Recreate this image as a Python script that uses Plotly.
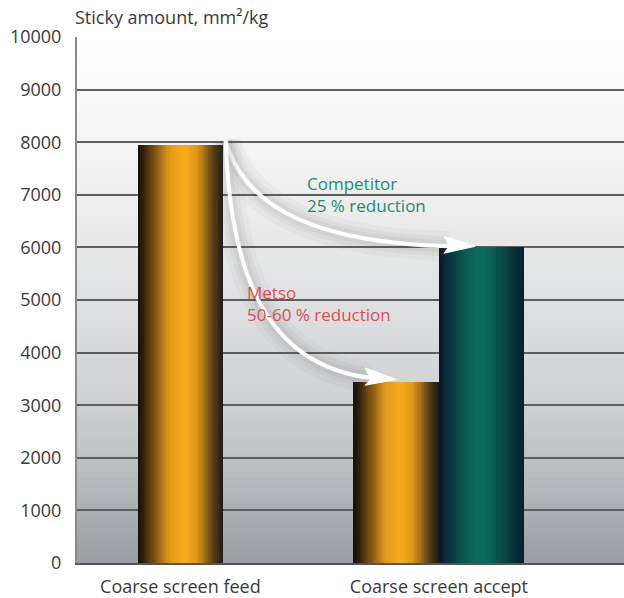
import plotly.graph_objects as go
import numpy as np

# ---- data ----
categories = ["Coarse screen feed", "Coarse screen accept"]
feed_values = [7950]          # Coarse screen feed
metso_values = [3450]         # Coarse screen accept, Metso
competitor_values = [6000]    # Coarse screen accept, Competitor
y_ticks = [0, 1000, 2000, 3000, 4000, 5000, 6000, 7000, 8000, 9000, 10000]
y_tick_labels = [str(v) for v in y_ticks]
y_title = "Sticky amount, mm²/kg"
comp_text = ["Competitor", "25 % reduction"]
metso_text = ["Metso", "50-60 % reduction"]

# ---- style ----
BAR_W = 0.33
N = 40
FONT = "Open Sans"
TXT = 18

def lerp_color(stops, t):
    for i in range(len(stops) - 1):
        t0, c0 = stops[i]
        t1, c1 = stops[i + 1]
        if t0 <= t <= t1:
            f = (t - t0) / (t1 - t0) if t1 > t0 else 0
            a = [int(c0[k:k+2], 16) for k in (1, 3, 5)]
            b = [int(c1[k:k+2], 16) for k in (1, 3, 5)]
            c = [round(a[j] + (b[j] - a[j]) * f) for j in range(3)]
            return "rgb(%d,%d,%d)" % tuple(c)
    return stops[-1][1]

orange_stops = [(0, "#121110"), (0.07, "#2e2210"), (0.22, "#8a5c14"), (0.38, "#e49a1c"),
                (0.55, "#f8ab1e"), (0.70, "#e09619"), (0.84, "#7a5414"), (0.94, "#3a2c14"), (1.0, "#1c1a16")]
teal_stops = [(0, "#071626"), (0.08, "#0a2a36"), (0.25, "#0a5048"), (0.42, "#0b6a5a"),
              (0.55, "#0b6a5a"), (0.72, "#0a5048"), (0.88, "#0a3038"), (1.0, "#08202c")]

fig = go.Figure()

def cylinder(xc, val, stops):
    xs, cols = [], []
    for i in range(N):
        t = (i + 0.5) / N
        xs.append(xc - BAR_W / 2 + t * BAR_W)
        cols.append(lerp_color(stops, t))
    fig.add_trace(go.Bar(x=xs, y=[val] * N, width=[BAR_W / N * 1.15] * N,
                         marker=dict(color=cols, line=dict(width=0)),
                         showlegend=False, hoverinfo="skip"))

x_feed = 0
x_metso = 1 - BAR_W / 2
x_comp = 1 + BAR_W / 2
cylinder(x_feed, feed_values[0], orange_stops)
cylinder(x_metso, metso_values[0], orange_stops)
cylinder(x_comp, competitor_values[0], teal_stops)

# ---- background gradient (shapes below grid) ----
bg_stops = [(0.0, "#9a9da1"), (0.08, "#a8abaf"), (0.18, "#bcbfc2"), (0.31, "#cfd1d3"),
            (0.50, "#e0e1e2"), (0.69, "#eeeeee"), (0.85, "#f8f8f8"), (1.0, "#ffffff")]
shapes = []
NB = 80
for i in range(NB):
    y0 = i / NB
    y1 = (i + 1) / NB
    shapes.append(dict(type="rect", xref="paper", yref="paper", x0=0, x1=1, y0=y0, y1=y1 + 0.002,
                       fillcolor=lerp_color(bg_stops, (i + 0.5) / NB), line=dict(width=0), layer="below"))

# ---- arrows (anchored to data values) ----
sx = x_feed + BAR_W / 2 + 0.01
sy = feed_values[0] + 80
ce_x = x_comp - BAR_W / 2 + 0.14
ce_y = competitor_values[0] + 20
comp_path = f"M {sx},{sy} C {sx+0.08},{sy-1400} {sx+0.40},{ce_y+60} {ce_x-0.1},{ce_y}"
me_x = x_metso + 0.0
me_y = metso_values[0] + 40
metso_path = f"M {sx},{sy} C {sx+0.02},{sy-2900} {sx+0.20},{me_y+250} {me_x-0.1},{me_y+30}"

for p in (comp_path, metso_path):
    for w, a in ((30, 0.04), (20, 0.05), (12, 0.06)):
        shapes.append(dict(type="path", path=p, xref="x", yref="y",
                           line=dict(color=f"rgba(70,70,70,{a})", width=w), layer="above"))
    shapes.append(dict(type="path", path=p, xref="x", yref="y",
                       line=dict(color="rgba(255,255,255,0.97)", width=4), layer="above"))

def head(tx, ty, bx, by_up, by_dn):
    return f"M {tx},{ty} L {bx},{by_up} L {bx+0.02},{ty} L {bx},{by_dn} Z"

shapes.append(dict(type="path", xref="x", yref="y", layer="above",
                   path=head(ce_x, ce_y, ce_x - 0.12, ce_y + 190, ce_y - 130),
                   fillcolor="white", line=dict(color="white", width=1)))
shapes.append(dict(type="path", xref="x", yref="y", layer="above",
                   path=head(me_x, me_y, me_x - 0.12, me_y + 220, me_y - 110),
                   fillcolor="white", line=dict(color="white", width=1)))

def label(lines, x, y, color):
    return dict(text="<br>".join(lines), xref="x", yref="y", x=x, y=y, xanchor="left", yanchor="middle",
                align="left", showarrow=False, font=dict(family=FONT, size=17, color=color))

annotations = [
    dict(text=y_title, xref="paper", yref="paper", x=0, y=1, xanchor="left", yanchor="bottom",
         xshift=-4, yshift=6, showarrow=False, font=dict(family=FONT, size=TXT, color="#3a3a3a")),
    label(comp_text, 0.482, 7000, "#1f8a70"),
    label(metso_text, 0.25, 4930, "#d9504f"),
]

fig.update_layout(
    width=624, height=598,
    margin=dict(l=77, r=0, t=37, b=35),
    paper_bgcolor="white", plot_bgcolor="rgba(0,0,0,0)",
    barmode="overlay", bargap=0,
    showlegend=False,
    shapes=shapes, annotations=annotations,
    font=dict(family=FONT, color="#3a3a3a"),
    xaxis=dict(range=[-0.4, 1.716], tickvals=[x_feed, 1], ticktext=categories,
               showgrid=False, zeroline=False, showline=True, linecolor="#555", linewidth=2,
               ticks="", ticklabelstandoff=6, tickfont=dict(size=TXT, family=FONT, color="#3a3a3a"), fixedrange=True),
    yaxis=dict(range=[0, 10000], tickvals=y_ticks, ticktext=y_tick_labels, showgrid=True,
               gridcolor="#5e5e5e", gridwidth=1.5,
               zeroline=False, showline=True, linecolor="#8a8a8a", linewidth=2, ticks="",
               ticklabelstandoff=10, tickfont=dict(size=TXT, family=FONT, color="#3a3a3a"), fixedrange=True),
)

fig.write_html("out.html")
